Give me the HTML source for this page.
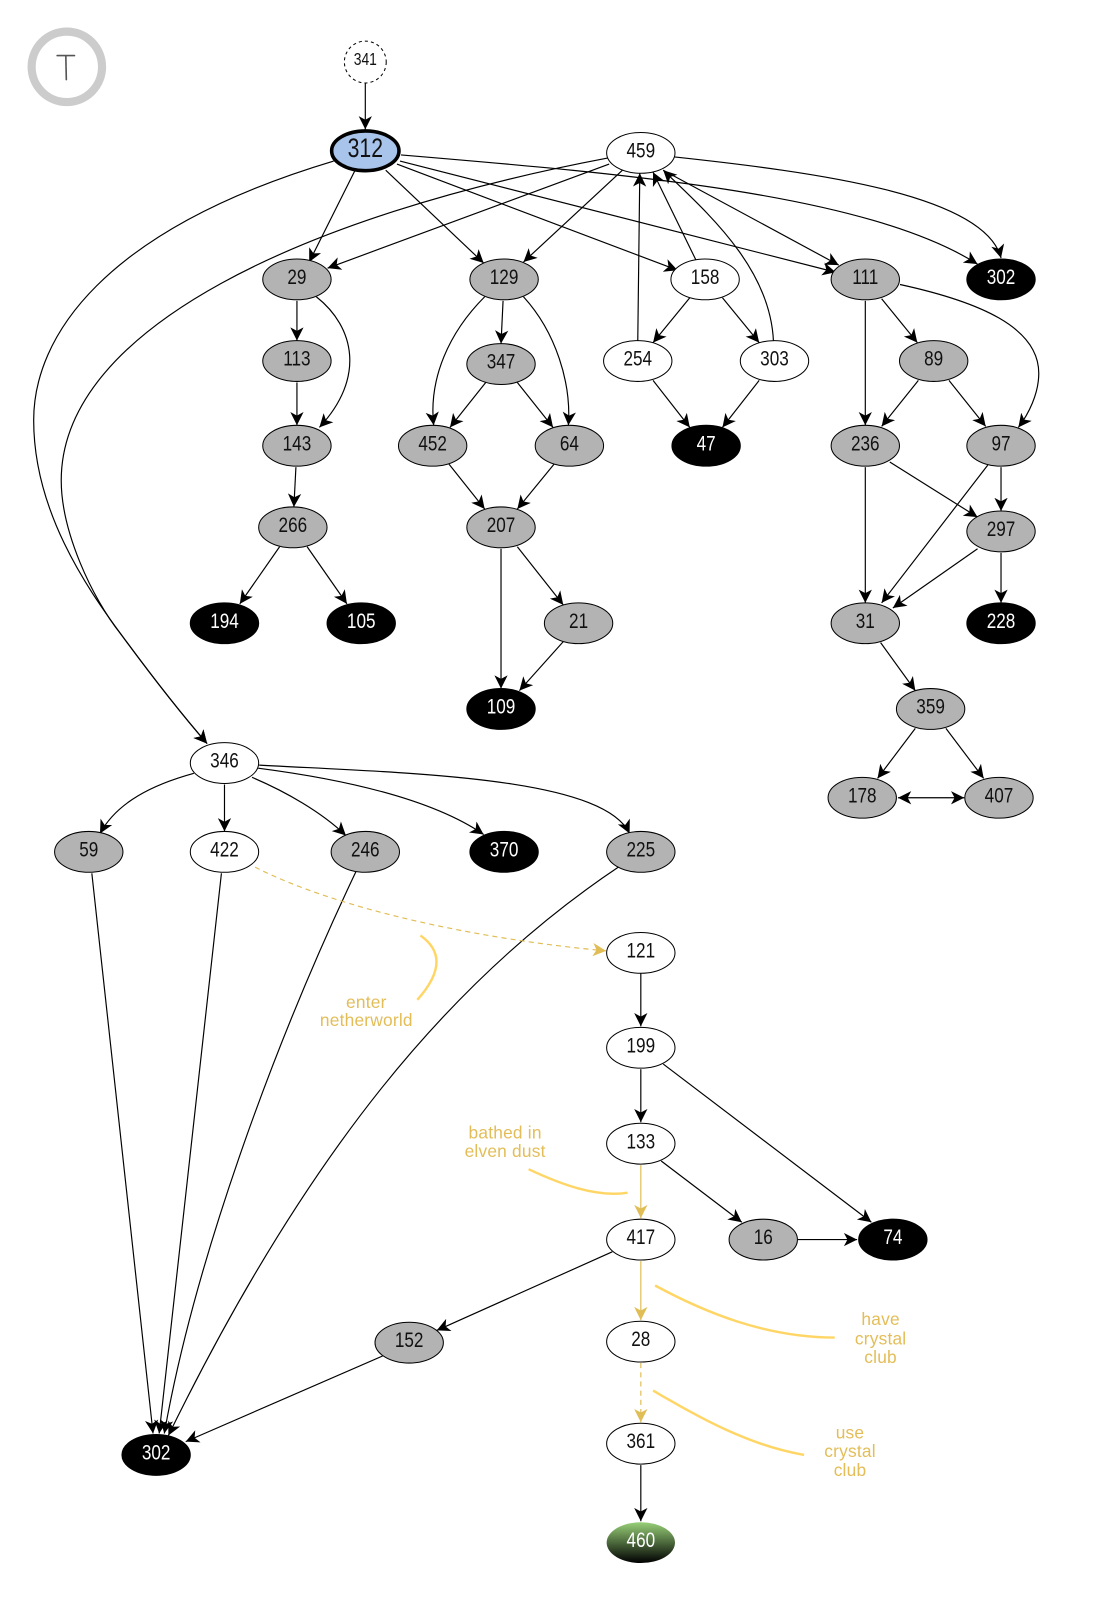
<!DOCTYPE html>
<html><head><meta charset="utf-8"><style>
html,body{margin:0;padding:0;background:#fff}
svg{display:block}
text{font-family:"Liberation Sans",sans-serif;font-size:21px;text-anchor:middle;dominant-baseline:central;fill:#111;transform-box:fill-box;transform-origin:center;transform:scaleX(.8)}
.e{fill:none;stroke:#000;stroke-width:1.15}
.y{fill:none;stroke:#e0bd55;stroke-width:1.15}
.d{stroke-dasharray:5 4}
.a{fill:none;stroke:#ffd666;stroke-width:2.4}
text.l{fill:#e3bd58;font-size:17px;letter-spacing:.2px;transform:none}
.g{fill:#b3b3b3;stroke:#000;stroke-width:1}
.w{fill:#fff;stroke:#000;stroke-width:1}
.b{fill:#000;stroke:#000;stroke-width:1}
text.wt{fill:#fff}
</style></head><body>
<svg width="1100" height="1600" viewBox="0 0 1078 1568" xmlns="http://www.w3.org/2000/svg">
<defs>
<marker id="m" markerUnits="userSpaceOnUse" markerWidth="15" markerHeight="15" refX="13" refY="7" orient="auto"><path d="M0,0.5 L13,7 L0,13.5 L3.5,7 Z" fill="#000"/></marker>
<marker id="s" markerUnits="userSpaceOnUse" markerWidth="15" markerHeight="15" refX="0" refY="7" orient="auto"><path d="M13,0.5 L0,7 L13,13.5 L9.5,7 Z" fill="#000"/></marker>
<marker id="my" markerUnits="userSpaceOnUse" markerWidth="15" markerHeight="15" refX="13" refY="7" orient="auto"><path d="M0,0.5 L13,7 L0,13.5 L3.5,7 Z" fill="#e0bd55"/></marker>
<linearGradient id="gr" x1="0" y1="0" x2="0" y2="1"><stop offset="0" stop-color="#97d077"/><stop offset="1" stop-color="#000"/></linearGradient>
</defs>
<circle cx="65.5" cy="65.5" r="34.5" fill="#fff" stroke="#ccc" stroke-width="8"/>
<path d="M56,54.5 L73,54.5 M64.5,54.5 L65,78" fill="none" stroke="#555" stroke-width="1.6" stroke-linecap="round"/>
<text x="65" y="66" style="font-size:1px;fill:#fff">T</text>
<g transform="translate(0,.8)">
<g class="e" marker-end="url(#m)">
<path d="M358,80 L358,126"/>
<path d="M348,166 L303,256"/>
<path d="M378,166 L474,257"/>
<path d="M389,160 L664,264"/>
<path d="M392,157 L819,266"/>
<path d="M393,151 C620,170 850,190 958,258"/>
<path d="M661,153 C800,168 965,190 981,252"/>
<path d="M327,157 C100,225 33,330 33,411 C33,500 85,575 118,620 C140,650 170,690 203,728"/>
<path d="M596,154 C300,210 60,320 60,470 C60,520 90,585 118,620 C140,650 170,690 203,728"/>
<path d="M597,160 L321,262"/>
<path d="M610,166 L513,256"/>
<path d="M650,166 L822,259"/>
<path d="M682,254 L640,168"/>
<path d="M625,334 L627,169"/>
<path d="M758,334 C755,260 690,205 650,166"/>
<path d="M676,291 L640,335"/>
<path d="M708,291 L744,335"/>
<path d="M640,372 L676,418"/>
<path d="M744,372 L708,418"/>
<path d="M848,294 L848,416"/>
<path d="M864,292 L899,335"/>
<path d="M882,278 C960,295 1018,320 1018,365 C1018,385 1008,405 998,418"/>
<path d="M900,372 L864,417"/>
<path d="M930,372 L966,417"/>
<path d="M872,452 L958,506"/>
<path d="M848,457 L848,590"/>
<path d="M981,457 L981,500"/>
<path d="M968,455 L864,590"/>
<path d="M958,537 L875,595"/>
<path d="M981,541 L981,590"/>
<path d="M863,629 L897,676"/>
<path d="M897,713 L860,762"/>
<path d="M927,713 L964,762"/>
<path d="M880,781 L945,781" marker-start="url(#s)"/>
<path d="M291,294 L291,333"/>
<path d="M310,290 C348,320 358,370 313,418"/>
<path d="M291,374 L291,416"/>
<path d="M290,457 L288,496"/>
<path d="M274,535 L235,591"/>
<path d="M301,535 L340,591"/>
<path d="M493,294 L491,336"/>
<path d="M475,290 C440,325 420,370 425,416"/>
<path d="M513,290 C545,325 560,375 557,416"/>
<path d="M476,374 L441,418"/>
<path d="M507,374 L542,418"/>
<path d="M440,454 L475,498"/>
<path d="M543,454 L507,498"/>
<path d="M491,537 L491,674"/>
<path d="M507,535 L552,592"/>
<path d="M552,628 L509,676"/>
<path d="M190,757 C150,768 115,785 98,816"/>
<path d="M220,768 L220,814"/>
<path d="M247,761 C280,775 315,795 339,818"/>
<path d="M253,752 C330,762 420,780 474,817"/>
<path d="M254,749 C400,757 590,760 617,816"/>
<path d="M90,855 L150,1404"/>
<path d="M217,855 C200,1000 175,1240 156,1404"/>
<path d="M349,853 C265,1030 190,1240 161,1404"/>
<path d="M606,849 C440,960 300,1130 165,1406"/>
<path d="M375,1328 L182,1412"/>
<path d="M628,953 L628,1005"/>
<path d="M628,1047 L628,1099"/>
<path d="M650,1042 L854,1197"/>
<path d="M648,1137 L727,1197"/>
<path d="M782,1214 L840,1214"/>
<path d="M600,1226 L428,1303"/>
<path d="M628,1435 L628,1490"/>
</g>
<g class="y" marker-end="url(#my)">
<path class="d" d="M250,849 C330,890 470,920 594,931"/>
<path d="M628,1141 L628,1193"/>
<path d="M628,1235 L628,1293"/>
<path class="d" d="M628,1335 L628,1393"/>
</g>
<g class="a">
<path d="M412,916 C432,930 435,950 409,979"/>
<path d="M518,1145 C550,1160 585,1173 615,1168"/>
<path d="M642,1259 C690,1285 750,1310 818,1310"/>
<path d="M640,1362 C680,1385 730,1415 788,1425"/>
</g>
<text class="l" x="359" y="981">enter</text><text class="l" x="359" y="999">netherworld</text>
<text class="l" x="495" y="1109">bathed in</text><text class="l" x="495" y="1127">elven dust</text>
<text class="l" x="863" y="1292">have</text><text class="l" x="863" y="1311">crystal</text><text class="l" x="863" y="1329">club</text>
<text class="l" x="833" y="1403">use</text><text class="l" x="833" y="1421">crystal</text><text class="l" x="833" y="1440">club</text>
<circle cx="358" cy="60" r="20.5" fill="#fff" stroke="#000" stroke-width="1" stroke-dasharray="3 3"/>
<text x="358" y="58" style="font-size:17px">341</text>
<ellipse cx="358" cy="147" rx="33" ry="19.5" fill="#a9c4eb" stroke="#000" stroke-width="3.5"/>
<text x="358" y="145" style="font-size:26px">312</text>

<ellipse class="w" cx="628" cy="149" rx="33.5" ry="20"/><text x="628" y="147">459</text>
<ellipse class="g" cx="291" cy="273" rx="33.5" ry="20"/><text x="291" y="271">29</text>
<ellipse class="g" cx="494" cy="273" rx="33.5" ry="20"/><text x="494" y="271">129</text>
<ellipse class="w" cx="691" cy="273" rx="33.5" ry="20"/><text x="691" y="271">158</text>
<ellipse class="g" cx="848" cy="273" rx="33.5" ry="20"/><text x="848" y="271">111</text>
<ellipse class="b" cx="981" cy="273" rx="33.5" ry="20"/><text class="wt" x="981" y="271">302</text>
<ellipse class="g" cx="291" cy="353" rx="33.5" ry="20"/><text x="291" y="351">113</text>
<ellipse class="g" cx="491" cy="356" rx="33.5" ry="20"/><text x="491" y="354">347</text>
<ellipse class="w" cx="625" cy="353" rx="33.5" ry="20"/><text x="625" y="351">254</text>
<ellipse class="w" cx="759" cy="353" rx="33.5" ry="20"/><text x="759" y="351">303</text>
<ellipse class="g" cx="915" cy="353" rx="33.5" ry="20"/><text x="915" y="351">89</text>
<ellipse class="g" cx="291" cy="436" rx="33.5" ry="20"/><text x="291" y="434">143</text>
<ellipse class="g" cx="424" cy="436" rx="33.5" ry="20"/><text x="424" y="434">452</text>
<ellipse class="g" cx="558" cy="436" rx="33.5" ry="20"/><text x="558" y="434">64</text>
<ellipse class="b" cx="692" cy="436" rx="33.5" ry="20"/><text class="wt" x="692" y="434">47</text>
<ellipse class="g" cx="848" cy="436" rx="33.5" ry="20"/><text x="848" y="434">236</text>
<ellipse class="g" cx="981" cy="436" rx="33.5" ry="20"/><text x="981" y="434">97</text>
<ellipse class="g" cx="287" cy="516" rx="33.5" ry="20"/><text x="287" y="514">266</text>
<ellipse class="g" cx="491" cy="516" rx="33.5" ry="20"/><text x="491" y="514">207</text>
<ellipse class="g" cx="981" cy="520" rx="33.5" ry="20"/><text x="981" y="518">297</text>
<ellipse class="b" cx="220" cy="610" rx="33.5" ry="20"/><text class="wt" x="220" y="608">194</text>
<ellipse class="b" cx="354" cy="610" rx="33.5" ry="20"/><text class="wt" x="354" y="608">105</text>
<ellipse class="g" cx="567" cy="610" rx="33.5" ry="20"/><text x="567" y="608">21</text>
<ellipse class="g" cx="848" cy="610" rx="33.5" ry="20"/><text x="848" y="608">31</text>
<ellipse class="b" cx="981" cy="610" rx="33.5" ry="20"/><text class="wt" x="981" y="608">228</text>
<ellipse class="b" cx="491" cy="694" rx="33.5" ry="20"/><text class="wt" x="491" y="692">109</text>
<ellipse class="g" cx="912" cy="694" rx="33.5" ry="20"/><text x="912" y="692">359</text>
<ellipse class="w" cx="220" cy="747" rx="33.5" ry="20"/><text x="220" y="745">346</text>
<ellipse class="g" cx="845" cy="781" rx="33.5" ry="20"/><text x="845" y="779">178</text>
<ellipse class="g" cx="979" cy="781" rx="33.5" ry="20"/><text x="979" y="779">407</text>
<ellipse class="g" cx="87" cy="834" rx="33.5" ry="20"/><text x="87" y="832">59</text>
<ellipse class="w" cx="220" cy="834" rx="33.5" ry="20"/><text x="220" y="832">422</text>
<ellipse class="g" cx="358" cy="834" rx="33.5" ry="20"/><text x="358" y="832">246</text>
<ellipse class="b" cx="494" cy="834" rx="33.5" ry="20"/><text class="wt" x="494" y="832">370</text>
<ellipse class="g" cx="628" cy="834" rx="33.5" ry="20"/><text x="628" y="832">225</text>
<ellipse class="w" cx="628" cy="933" rx="33.5" ry="20"/><text x="628" y="931">121</text>
<ellipse class="w" cx="628" cy="1026" rx="33.5" ry="20"/><text x="628" y="1024">199</text>
<ellipse class="w" cx="628" cy="1120" rx="33.5" ry="20"/><text x="628" y="1118">133</text>
<ellipse class="w" cx="628" cy="1214" rx="33.5" ry="20"/><text x="628" y="1212">417</text>
<ellipse class="g" cx="748" cy="1214" rx="33.5" ry="20"/><text x="748" y="1212">16</text>
<ellipse class="b" cx="875" cy="1214" rx="33.5" ry="20"/><text class="wt" x="875" y="1212">74</text>
<ellipse class="g" cx="401" cy="1315" rx="33.5" ry="20"/><text x="401" y="1313">152</text>
<ellipse class="w" cx="628" cy="1314" rx="33.5" ry="20"/><text x="628" y="1312">28</text>
<ellipse class="w" cx="628" cy="1414" rx="33.5" ry="20"/><text x="628" y="1412">361</text>
<ellipse class="b" cx="153" cy="1425" rx="33.5" ry="20"/><text class="wt" x="153" y="1423">302</text>
<ellipse cx="628" cy="1511" rx="33.5" ry="20" fill="url(#gr)"/><text class="wt" x="628" y="1509">460</text>
</g>
</svg>
</body></html>
